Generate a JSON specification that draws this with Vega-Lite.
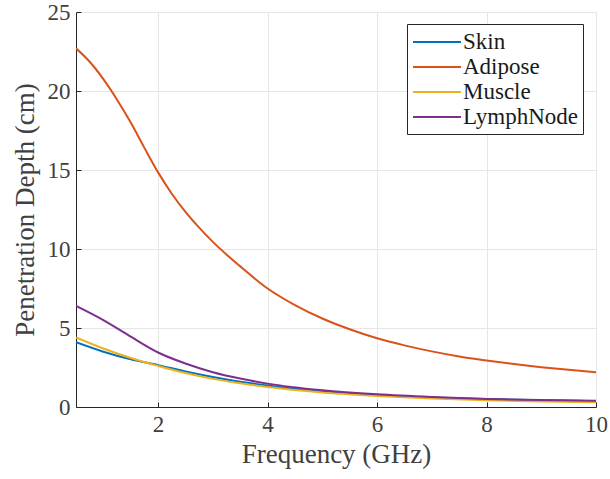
{
  "$schema": "https://vega.github.io/schema/vega-lite/v6.json",
  "autosize": {"type": "none"},
  "padding": {"left": 76, "top": 12, "right": 14, "bottom": 72},
  "width": 520,
  "height": 395,
  "background": "white",
  "config": {
    "view": {"stroke": null},
    "font": "Liberation Serif"
  },
  "data": {
    "values": [
      {"f": 0.5, "v": 4.1, "t": "Skin"},
      {"f": 1.0, "v": 3.5, "t": "Skin"},
      {"f": 1.5, "v": 3.02, "t": "Skin"},
      {"f": 2.0, "v": 2.65, "t": "Skin"},
      {"f": 2.5, "v": 2.25, "t": "Skin"},
      {"f": 3.0, "v": 1.9, "t": "Skin"},
      {"f": 3.5, "v": 1.6, "t": "Skin"},
      {"f": 4.0, "v": 1.36, "t": "Skin"},
      {"f": 5.0, "v": 1.0, "t": "Skin"},
      {"f": 6.0, "v": 0.76, "t": "Skin"},
      {"f": 7.0, "v": 0.6, "t": "Skin"},
      {"f": 8.0, "v": 0.5, "t": "Skin"},
      {"f": 9.0, "v": 0.43, "t": "Skin"},
      {"f": 10.0, "v": 0.37, "t": "Skin"},
      {"f": 0.5, "v": 22.7, "t": "Adipose"},
      {"f": 0.75, "v": 21.85, "t": "Adipose"},
      {"f": 1.0, "v": 20.75, "t": "Adipose"},
      {"f": 1.25, "v": 19.45, "t": "Adipose"},
      {"f": 1.5, "v": 18.0, "t": "Adipose"},
      {"f": 1.75, "v": 16.4, "t": "Adipose"},
      {"f": 2.0, "v": 14.85, "t": "Adipose"},
      {"f": 2.25, "v": 13.5, "t": "Adipose"},
      {"f": 2.5, "v": 12.35, "t": "Adipose"},
      {"f": 2.75, "v": 11.35, "t": "Adipose"},
      {"f": 3.0, "v": 10.45, "t": "Adipose"},
      {"f": 3.5, "v": 8.9, "t": "Adipose"},
      {"f": 4.0, "v": 7.5, "t": "Adipose"},
      {"f": 4.5, "v": 6.45, "t": "Adipose"},
      {"f": 5.0, "v": 5.6, "t": "Adipose"},
      {"f": 5.5, "v": 4.92, "t": "Adipose"},
      {"f": 6.0, "v": 4.35, "t": "Adipose"},
      {"f": 6.5, "v": 3.9, "t": "Adipose"},
      {"f": 7.0, "v": 3.52, "t": "Adipose"},
      {"f": 7.5, "v": 3.2, "t": "Adipose"},
      {"f": 8.0, "v": 2.95, "t": "Adipose"},
      {"f": 8.5, "v": 2.72, "t": "Adipose"},
      {"f": 9.0, "v": 2.52, "t": "Adipose"},
      {"f": 9.5, "v": 2.35, "t": "Adipose"},
      {"f": 10.0, "v": 2.2, "t": "Adipose"},
      {"f": 0.5, "v": 4.4, "t": "Muscle"},
      {"f": 1.0, "v": 3.7, "t": "Muscle"},
      {"f": 1.5, "v": 3.1, "t": "Muscle"},
      {"f": 2.0, "v": 2.6, "t": "Muscle"},
      {"f": 2.5, "v": 2.15, "t": "Muscle"},
      {"f": 3.0, "v": 1.78, "t": "Muscle"},
      {"f": 3.5, "v": 1.5, "t": "Muscle"},
      {"f": 4.0, "v": 1.26, "t": "Muscle"},
      {"f": 5.0, "v": 0.92, "t": "Muscle"},
      {"f": 6.0, "v": 0.7, "t": "Muscle"},
      {"f": 7.0, "v": 0.54, "t": "Muscle"},
      {"f": 8.0, "v": 0.43, "t": "Muscle"},
      {"f": 9.0, "v": 0.35, "t": "Muscle"},
      {"f": 10.0, "v": 0.3, "t": "Muscle"},
      {"f": 0.5, "v": 6.4, "t": "LymphNode"},
      {"f": 1.0, "v": 5.5, "t": "LymphNode"},
      {"f": 1.5, "v": 4.45, "t": "LymphNode"},
      {"f": 2.0, "v": 3.45, "t": "LymphNode"},
      {"f": 2.5, "v": 2.75, "t": "LymphNode"},
      {"f": 3.0, "v": 2.2, "t": "LymphNode"},
      {"f": 3.5, "v": 1.8, "t": "LymphNode"},
      {"f": 4.0, "v": 1.48, "t": "LymphNode"},
      {"f": 5.0, "v": 1.06, "t": "LymphNode"},
      {"f": 6.0, "v": 0.8, "t": "LymphNode"},
      {"f": 7.0, "v": 0.63, "t": "LymphNode"},
      {"f": 8.0, "v": 0.51, "t": "LymphNode"},
      {"f": 9.0, "v": 0.44, "t": "LymphNode"},
      {"f": 10.0, "v": 0.4, "t": "LymphNode"}
    ]
  },
  "mark": {"type": "line", "strokeWidth": 2, "interpolate": "monotone", "clip": true},
  "encoding": {
    "x": {
      "field": "f", "type": "quantitative",
      "scale": {"domain": [0.5, 10], "nice": false, "zero": false},
      "axis": {
        "title": "Frequency (GHz)", "values": [2, 4, 6, 8, 10],
        "titleFont": "Liberation Serif", "titleFontSize": 27, "titleFontWeight": "normal", "titleColor": "#404040", "titlePadding": 5,
        "labelFont": "Liberation Serif", "labelFontSize": 23, "labelColor": "#404040", "labelPadding": 11, "labelFlush": false,
        "domainColor": "#262626", "domainWidth": 1, "tickColor": "#262626", "tickSize": -5,
        "gridColor": "#e6e6e6", "gridWidth": 1
      }
    },
    "y": {
      "field": "v", "type": "quantitative",
      "scale": {"domain": [0, 25], "nice": false},
      "axis": {
        "title": "Penetration Depth (cm)", "values": [0, 5, 10, 15, 20, 25],
        "titleFont": "Liberation Serif", "titleFontSize": 27, "titleFontWeight": "normal", "titleColor": "#404040", "titlePadding": 8,
        "labelFont": "Liberation Serif", "labelFontSize": 23, "labelColor": "#404040", "labelPadding": 11, "labelFlush": false,
        "domainColor": "#262626", "domainWidth": 1, "tickColor": "#262626", "tickSize": -5,
        "gridColor": "#e6e6e6", "gridWidth": 1
      }
    },
    "color": {
      "field": "t", "type": "nominal",
      "scale": {"domain": ["Skin", "Adipose", "Muscle", "LymphNode"], "range": ["#0072BD", "#D95319", "#EDB120", "#7E2F8E"]},
      "legend": {
        "title": null, "orient": "none", "legendX": 331, "legendY": 12,
        "strokeColor": "#262626", "fillColor": "white", "padding": 5,
        "symbolType": "M-1,0H3", "symbolSize": 576, "symbolStrokeWidth": 2,
        "labelFont": "Liberation Serif", "labelFontSize": 23, "labelColor": "#1a1a1a", "labelOffset": 25,
        "rowPadding": 0
      }
    }
  }
}
